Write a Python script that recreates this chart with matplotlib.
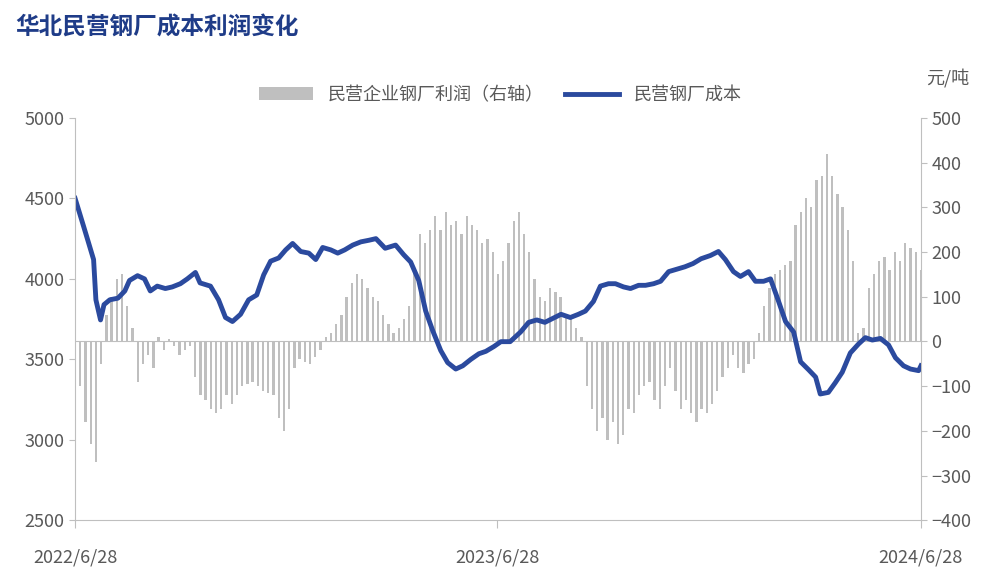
import matplotlib
matplotlib.use("Agg")
import matplotlib.pyplot as plt
import numpy as np
import pandas as pd

plt.rcParams['font.family'] = ['Noto Sans CJK SC', 'DejaVu Sans']

start, end = pd.Timestamp('2022-06-28'), pd.Timestamp('2024-06-28')
xtick_labels = ['2022/6/28', '2023/6/28', '2024/6/28']

# day offsets from 2022-06-28 for cost readings
cost_days = [0,7,11,16,18,22,25,30,37,43,47,54,60,65,71,78,84,91,97,104,108,117,124,130,136,143,150,157,163,169,176,182,188,195,202,208,214,221,227,233,240,247,254,260,268,277,284,290,297,303,309,316,322,329,335,342,349,355,362,368,376,385,392,399,406,413,420,428,435,441,448,454,461,467,474,480,487,493,500,506,513,520,527,534,541,549,556,562,569,575,582,588,595,601,608,614,621,627,634,640,644,651,657,663,670,677,683,689,696,703,709,716,722,729,731]
cost = [4500,4335,4240,4120,3870,3745,3840,3870,3880,3925,3990,4020,4000,3925,3955,3940,3950,3970,4000,4040,3975,3955,3870,3760,3735,3780,3870,3900,4025,4110,4130,4180,4220,4170,4160,4120,4195,4180,4160,4180,4210,4230,4240,4250,4190,4210,4150,4105,3990,3800,3680,3555,3480,3440,3460,3500,3535,3550,3580,3610,3610,3670,3730,3745,3730,3755,3780,3760,3780,3800,3860,3955,3970,3970,3950,3940,3960,3960,3970,3985,4045,4060,4075,4095,4125,4145,4170,4120,4045,4015,4045,3985,3985,4000,3860,3735,3670,3485,3435,3390,3285,3295,3355,3420,3540,3595,3635,3620,3630,3590,3510,3460,3440,3430,3460]
profit = [-150,-100,-180,-230,-270,-50,60,100,140,150,80,30,-90,-50,-30,-60,10,-20,5,-10,-30,-20,-10,-80,-120,-130,-150,-160,-150,-120,-140,-120,-100,-95,-90,-100,-110,-115,-120,-170,-200,-150,-60,-40,-45,-50,-35,-20,10,20,40,60,100,130,150,140,120,100,90,60,40,20,30,50,80,160,240,220,250,280,250,290,260,270,240,280,260,250,220,230,200,150,180,220,270,290,240,200,140,100,90,120,110,100,60,50,30,10,-100,-150,-200,-170,-220,-180,-230,-210,-150,-160,-120,-100,-90,-130,-150,-100,-60,-110,-150,-130,-160,-180,-150,-160,-140,-110,-80,-60,-30,-60,-70,-50,-40,20,80,120,150,160,170,180,260,290,320,300,360,370,420,370,330,300,250,180,20,30,120,150,180,190,160,200,180,220,210,200,160]

n = min(len(cost_days), len(cost))
cx = start + pd.to_timedelta(cost_days[:n], unit='D')
cy = cost[:n]
px = pd.to_datetime(np.linspace(start.value, end.value, len(profit)))

fig = plt.figure(figsize=(10.01, 5.75), dpi=100)
ax = fig.add_axes([0.075, 0.095, 0.845, 0.70])
ax2 = ax.twinx()
ax.set_zorder(2); ax.patch.set_visible(False)

ax2.bar(px, profit, width=2.0, color='#bfbfbf', label='民营企业钢厂利润（右轴）')
ax.plot(cx, cy, color='#2b4a9e', lw=3.5, label='民营钢厂成本', solid_joinstyle='round')

ax.set_ylim(2500, 5000); ax.set_yticks(range(2500, 5001, 500))
ax2.set_ylim(-400, 500); ax2.set_yticks(range(-400, 501, 100))
ax.set_xlim(start, end)
ax.set_xticks([start, pd.Timestamp('2023-06-28'), end])
ax.set_xticklabels(xtick_labels)
gc = '#595959'
for a in (ax, ax2):
    a.tick_params(colors=gc, labelsize=13, length=4)
    for s in a.spines.values():
        s.set_visible(False)
ax.spines['left'].set_visible(True); ax.spines['left'].set_color('#bfbfbf')
ax2.spines['right'].set_visible(True); ax2.spines['right'].set_color('#bfbfbf')
ax.spines['bottom'].set_visible(True); ax.spines['bottom'].set_color('#bfbfbf')
ax.tick_params(axis='x', pad=14, length=6, color='#bfbfbf')
ax.tick_params(axis='y', color='#bfbfbf'); ax2.tick_params(axis='y', color='#bfbfbf')
ax2.axhline(0, color='#bfbfbf', lw=0.8)

h1, l1 = ax2.get_legend_handles_labels(); h2, l2 = ax.get_legend_handles_labels()
fig.legend(h1 + h2, l1 + l2, loc='center', bbox_to_anchor=(0.5, 0.835), ncol=2, frameon=False,
           fontsize=13, labelcolor=gc, handlelength=3, columnspacing=1.2)
fig.text(0.968, 0.855, '元/吨', fontsize=13, color=gc, ha='right')
fig.text(0.015, 0.94, '华北民营钢厂成本利润变化', fontsize=17, fontweight='bold', color='#1f3c88')
fig.savefig('out.png', dpi=100)
